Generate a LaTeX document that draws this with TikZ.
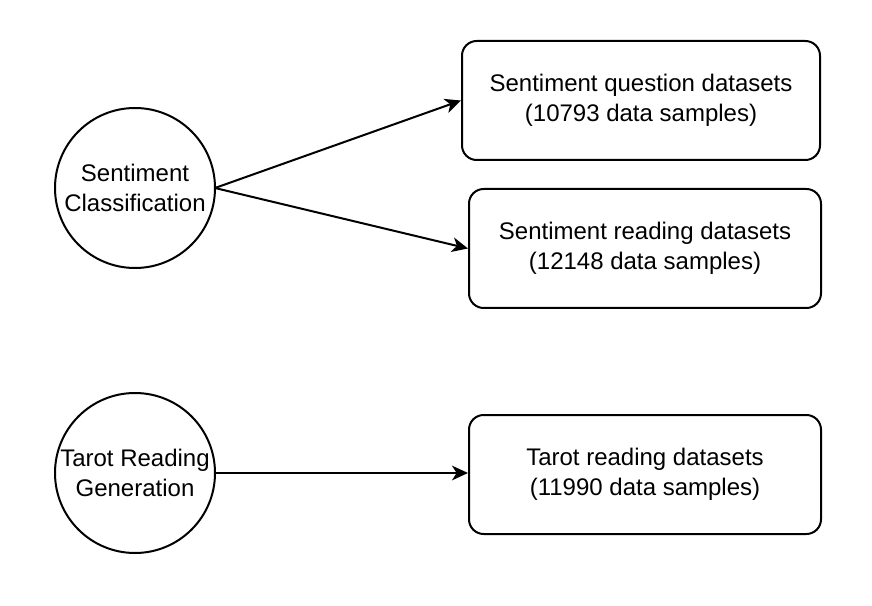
\documentclass[tikz,border=0pt]{standalone}
\usepackage{fontspec}
\setmainfont{Liberation Sans}
\usetikzlibrary{arrows.meta}
\begin{document}
\begin{tikzpicture}[x=0.75pt,y=-0.75pt,
  every node/.style={font=\fontsize{18}{22.5}\selectfont, align=center, inner sep=0pt},
  circ/.style={draw, circle, line width=1.5pt, minimum size=120pt},
  dbox/.style={draw, rounded corners=11pt, line width=1.5pt, minimum height=89.25pt},
  conn/.style={line width=1.5pt, -{Stealth[length=12pt,width=11pt,inset=3.5pt]}}]
\useasboundingbox (0,0) rectangle (872,606);
\node[circ] (sc) at (135,188) {Sentiment\\Classification};
\node[circ] (tr) at (135,473) {Tarot Reading\\Generation};
\node[dbox, minimum width=268.5pt] (q) at (641,100.5) {Sentiment question datasets\\(10793 data samples)};
\node[dbox, minimum width=264pt] (r) at (645,248.5) {Sentiment reading datasets\\(12148 data samples)};
\node[dbox, minimum width=264pt] (t) at (645,474.5) {Tarot reading datasets\\(11990 data samples)};
\coordinate (s1) at (215,188);
\coordinate (s2) at (215,473);
\draw[conn] (s1) -- (q.west);
\draw[conn] (s1) -- (r.west);
\draw[conn] (s2) -- (s2 -| t.west);
\end{tikzpicture}
\end{document}
